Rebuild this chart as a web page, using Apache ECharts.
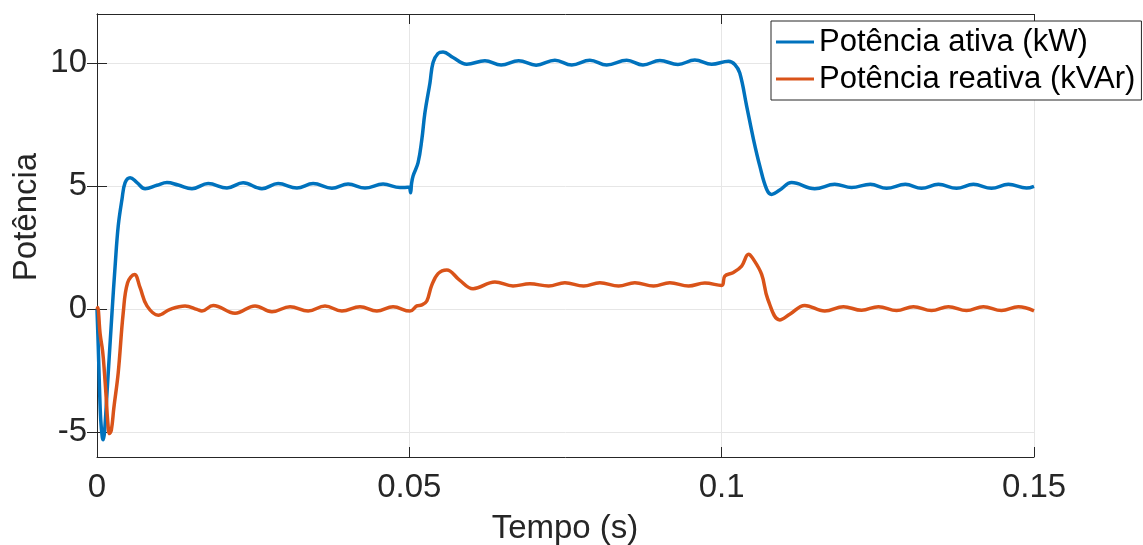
<!DOCTYPE html>
<html>
<head>
<meta charset="utf-8">
<script src="https://cdn.jsdelivr.net/npm/echarts@6/dist/echarts.min.js"></script>
<style>html,body{margin:0;padding:0;background:#fff;}#c{width:1143px;height:545px;}</style>
</head>
<body>
<div id="c"></div>
<script>
const xTicks = [0, 0.05, 0.1, 0.15];
const yTicks = [-5, 0, 5, 10];
const seriesNames = ['Potência ativa (kW)', 'Potência reativa (kVAr)'];

const activeT = [0, 0.0002, 0.0004, 0.0006, 0.00085, 0.001, 0.0012, 0.0016, 0.0024, 0.0029, 0.0034, 0.0040, 0.0045, 0.0053, 0.0064, 0.0077, 0.0096, 0.0112, 0.0130, 0.0152, 0.0178, 0.0208, 0.0234, 0.0264, 0.0290, 0.0320, 0.0346, 0.0376, 0.0402, 0.0429, 0.0458, 0.0485, 0.0493, 0.04995, 0.0502, 0.05035, 0.0506, 0.0514, 0.0520, 0.0525, 0.0533, 0.0538, 0.0546, 0.0554, 0.0570, 0.0592, 0.0621, 0.0647, 0.0675, 0.0703, 0.0733, 0.0760, 0.0789, 0.0816, 0.0848, 0.0874, 0.0901, 0.0930, 0.0957, 0.0984, 0.1011, 0.1021, 0.1029, 0.1040, 0.1051, 0.1061, 0.1072, 0.1080, 0.1093, 0.1112, 0.1149, 0.1181, 0.1208, 0.1238, 0.1264, 0.1294, 0.1320, 0.1347, 0.1376, 0.1403, 0.1432, 0.1459, 0.1488, 0.15];
const activeV = [0, -1.5, -3.2, -4.5, -5.2, -5.3, -5.0, -3.4, -0.14, 1.76, 3.39, 4.47, 5.15, 5.35, 5.15, 4.9, 5.04, 5.15, 5.05, 4.9, 5.11, 4.93, 5.14, 4.9, 5.11, 4.93, 5.11, 4.92, 5.09, 4.93, 5.09, 4.95, 4.95, 4.96, 4.74, 5.1, 5.42, 5.96, 6.9, 8.0, 9.2, 10.03, 10.4, 10.46, 10.23, 9.96, 10.1, 9.93, 10.1, 9.92, 10.12, 9.93, 10.12, 9.93, 10.12, 9.93, 10.11, 9.95, 10.13, 9.96, 10.08, 9.95, 9.6, 8.26, 6.9, 5.83, 4.88, 4.67, 4.85, 5.15, 4.9, 5.08, 4.95, 5.08, 4.92, 5.08, 4.92, 5.08, 4.92, 5.08, 4.92, 5.08, 4.93, 5.0];

const reactiveT = [0, 0.0001, 0.0005, 0.0009, 0.0012, 0.0015, 0.0017, 0.0020, 0.0023, 0.0027, 0.0034, 0.0042, 0.0049, 0.0060, 0.0069, 0.0080, 0.0098, 0.0117, 0.0141, 0.0160, 0.0168, 0.0186, 0.0221, 0.0253, 0.0280, 0.0309, 0.0338, 0.0365, 0.0392, 0.0421, 0.0448, 0.0474, 0.0501, 0.0512, 0.0520, 0.0528, 0.05355, 0.0546, 0.0560, 0.0580, 0.0602, 0.0637, 0.0666, 0.0693, 0.0723, 0.0749, 0.0779, 0.0805, 0.0835, 0.0861, 0.0891, 0.0917, 0.0947, 0.0973, 0.1000, 0.1005, 0.1018, 0.1032, 0.1043, 0.1049, 0.1064, 0.1074, 0.1093, 0.1109, 0.1133, 0.1165, 0.1195, 0.1224, 0.1251, 0.1280, 0.1307, 0.1336, 0.1363, 0.1392, 0.1419, 0.1448, 0.1475, 0.15];
const reactiveV = [0, 0.07, -1.0, -1.7, -2.6, -3.7, -4.5, -5.05, -4.9, -4.0, -2.57, -0.14, 1.08, 1.42, 0.88, 0.14, -0.24, 0, 0.14, 0.0, -0.07, 0.16, -0.16, 0.14, -0.1, 0.11, -0.07, 0.14, -0.07, 0.11, -0.07, 0.1, -0.07, 0.14, 0.18, 0.34, 0.95, 1.45, 1.6, 1.2, 0.84, 1.11, 0.95, 1.04, 0.95, 1.08, 0.95, 1.08, 0.95, 1.08, 0.95, 1.08, 0.95, 1.07, 0.97, 1.35, 1.49, 1.76, 2.24, 2.1, 1.42, 0.4, -0.43, -0.2, 0.16, -0.07, 0.11, -0.04, 0.11, -0.05, 0.11, -0.05, 0.11, -0.05, 0.11, -0.05, 0.1, -0.06];

const zip = (a, b) => a.map((t, i) => [t, b[i]]);
const FONT = 'Liberation Sans';
const AX = '#262626';

const chart = echarts.init(document.getElementById('c'), null, {renderer: 'canvas'});
const baseY = {
  type: 'value', min: -6, max: 12,
  axisLine: {show: true, lineStyle: {color: AX, width: 1}},
  axisTick: {show: true, inside: true, length: 10, customValues: yTicks, lineStyle: {color: AX}},
  splitLine: {show: false}
};
const baseX = {
  type: 'value', min: 0, max: 0.15, interval: 0.05,
  axisLine: {show: true, onZero: false, lineStyle: {color: AX, width: 1}},
  axisTick: {show: true, inside: true, length: 10, lineStyle: {color: AX}},
  splitLine: {show: false}
};
chart.setOption({
  animation: false,
  backgroundColor: '#fff',
  grid: {left: 97, right: 109, top: 14, bottom: 88, containLabel: false},
  legend: {
    orient: 'vertical', left: 771, top: 21,
    backgroundColor: '#fff', borderColor: AX, borderWidth: 1,
    padding: [4, 6, 4, 5], itemWidth: 38, itemHeight: 3, itemGap: 3,
    icon: 'rect',
    textStyle: {fontFamily: FONT, fontSize: 31, color: '#000', lineHeight: 34},
    data: seriesNames
  },
  xAxis: [
    Object.assign({}, baseX, {
      position: 'bottom',
      axisLabel: {show: true, margin: 14, fontFamily: FONT, fontSize: 33, color: AX,
        formatter: v => String(v)},
      splitLine: {show: true, lineStyle: {color: '#e6e6e6', width: 1}}
    }),
    Object.assign({}, baseX, {position: 'top', axisLabel: {show: false}})
  ],
  yAxis: [
    Object.assign({}, baseY, {
      position: 'left',
      axisLabel: {show: true, margin: 10, fontFamily: FONT, fontSize: 33, color: AX, customValues: yTicks},
      splitLine: {show: true, lineStyle: {color: '#e6e6e6', width: 1}}
    }),
    Object.assign({}, baseY, {position: 'right', axisLabel: {show: false}})
  ],
  graphic: [
    {type: 'text', x: 565, y: 512, style: {text: 'Tempo (s)', fontFamily: FONT, fontSize: 33, fill: AX, align: 'center', verticalAlign: 'top'}},
    {type: 'text', x: 27, y: 217, rotation: Math.PI / 2, style: {text: 'Potência', fontFamily: FONT, fontSize: 33, fill: AX, align: 'center', verticalAlign: 'middle'}}
  ],
  series: [
    {name: seriesNames[0], type: 'line', xAxisIndex: 0, yAxisIndex: 0, data: zip(activeT, activeV),
      showSymbol: false, symbol: 'none', smooth: 0.4, lineStyle: {color: '#0072BD', width: 3.5}, itemStyle: {color: '#0072BD'}},
    {name: seriesNames[1], type: 'line', xAxisIndex: 0, yAxisIndex: 0, data: zip(reactiveT, reactiveV),
      showSymbol: false, symbol: 'none', smooth: 0.4, lineStyle: {color: '#D95319', width: 3.5}, itemStyle: {color: '#D95319'}}
  ]
});
</script>
</body>
</html>
